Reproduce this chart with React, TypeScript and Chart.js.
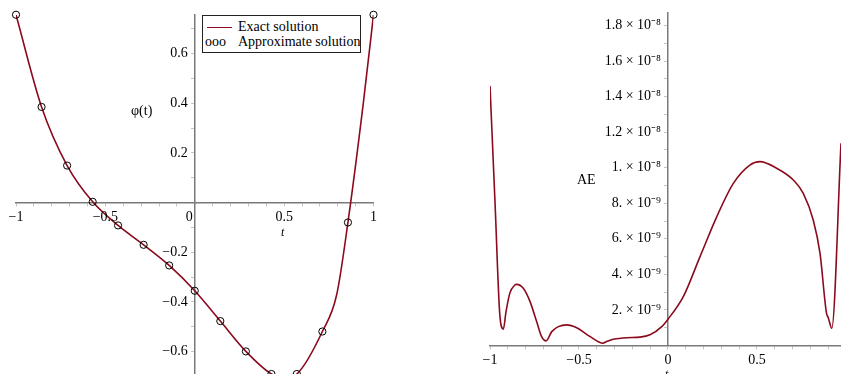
import React, { useEffect, useRef } from "react";
import { Chart, registerables } from "chart.js";

Chart.register(...registerables);

// ---------- Left chart data (phi(t)) ----------
const tNodes = [-1, -0.857, -0.714, -0.571, -0.429, -0.286, -0.143, 0, 0.143, 0.286, 0.429, 0.571, 0.714, 0.857, 1];
const phiApprox = [0.756, 0.385, 0.149, 0.003, -0.092, -0.17, -0.253, -0.355, -0.477, -0.599, -0.69, -0.69, -0.519, -0.08, 0.756];

const tExact = [-1, -0.857, -0.714, -0.571, -0.429, -0.286, -0.143, 0, 0.143, 0.286, 0.429, 0.5, 0.571, 0.714, 0.794, 0.857, 0.943, 1];
const phiExact = [0.756, 0.385, 0.149, 0.003, -0.092, -0.17, -0.253, -0.355, -0.477, -0.599, -0.69, -0.705, -0.69, -0.519, -0.371, -0.08, 0.4, 0.756];

const leftXTickValues = [-1, -0.9, -0.8, -0.7, -0.6, -0.5, -0.4, -0.3, -0.2, -0.1, 0, 0.1, 0.2, 0.3, 0.4, 0.5, 0.6, 0.7, 0.8, 0.9, 1];
const leftXLabelValues = [-1, -0.5, 0, 0.5, 1];
const leftXLabels = ["\u22121", "\u22120.5", "0", "0.5", "1"];

const leftYTickValues = [-0.6, -0.5, -0.4, -0.3, -0.2, -0.1, 0.1, 0.2, 0.3, 0.4, 0.5, 0.6, 0.7];
const leftYLabelValues = [-0.6, -0.4, -0.2, 0.2, 0.4, 0.6];
const leftYLabels = ["\u22120.6", "\u22120.4", "\u22120.2", "0.2", "0.4", "0.6"];

// ---------- Right chart data (AE) ----------
const tAE = [-1, -0.972, -0.944, -0.925, -0.91, -0.888, -0.86, -0.85, -0.813, -0.775, -0.738, -0.71, -0.685, -0.653, -0.616, -0.569, -0.513, -0.457, -0.4, -0.369, -0.338, -0.307, -0.232, -0.157, -0.101, -0.035, 0, 0.086, 0.18, 0.273, 0.367, 0.46, 0.517, 0.61, 0.704, 0.76, 0.816, 0.854, 0.89, 0.901, 0.92, 0.972];
const aeValues = [14.6e-9, 8.1e-9, 1.62e-9, 0.92e-9, 1.9e-9, 2.96e-9, 3.4e-9, 3.44e-9, 3.22e-9, 2.47e-9, 1.35e-9, 0.5e-9, 0.26e-9, 0.78e-9, 1.06e-9, 1.16e-9, 1.0e-9, 0.63e-9, 0.26e-9, 0.13e-9, 0.25e-9, 0.35e-9, 0.44e-9, 0.47e-9, 0.6e-9, 1.06e-9, 1.48e-9, 2.75e-9, 5.0e-9, 7.22e-9, 9.12e-9, 10.15e-9, 10.34e-9, 9.97e-9, 9.31e-9, 8.56e-9, 7.06e-9, 5.19e-9, 1.85e-9, 1.55e-9, 0.97e-9, 11.37e-9];

const rightXTickValues = [-1, -0.9, -0.8, -0.7, -0.6, -0.5, -0.4, -0.3, -0.2, -0.1, 0, 0.1, 0.2, 0.3, 0.4, 0.5, 0.6, 0.7, 0.8, 0.9];
const rightXLabelValues = [-1, -0.5, 0, 0.5];
const rightXLabels = ["\u22121", "\u22120.5", "0", "0.5"];

const rightYTickValues = [1e-9, 2e-9, 3e-9, 4e-9, 5e-9, 6e-9, 7e-9, 8e-9, 9e-9, 10e-9, 11e-9, 12e-9, 13e-9, 14e-9, 15e-9, 16e-9, 17e-9, 18e-9];
const rightYLabelValues = [2e-9, 4e-9, 6e-9, 8e-9, 10e-9, 12e-9, 14e-9, 16e-9, 18e-9];
const rightYLabels = [
  "2. \u00d7 10\u207b\u2079",
  "4. \u00d7 10\u207b\u2079",
  "6. \u00d7 10\u207b\u2079",
  "8. \u00d7 10\u207b\u2079",
  "1. \u00d7 10\u207b\u2078",
  "1.2 \u00d7 10\u207b\u2078",
  "1.4 \u00d7 10\u207b\u2078",
  "1.6 \u00d7 10\u207b\u2078",
  "1.8 \u00d7 10\u207b\u2078",
];

const RED = "#8b0a1c";
const AXIS = "#7a7a7a";
const TICK = "#c4c4c4";
const SERIF = "'Liberation Serif', 'Times New Roman', serif";

// Draws tick labels next to axes that cross at the origin, using the chart's scales.
const tickLabelPlugin = {
  id: "originTickLabels",
  afterDraw(chart: any, _args: any, opts: any) {
    const { ctx } = chart;
    const xs = chart.scales.x;
    const ys = chart.scales.y;
    const axisY = ys.getPixelForValue(0);
    const axisX = xs.getPixelForValue(0);
    ctx.save();
    ctx.font = `14px ${SERIF}`;
    ctx.fillStyle = "#000";
    ctx.textBaseline = "middle";
    ctx.textAlign = "center";
    opts.xValues.forEach((v: number, i: number) => {
      const shift = v === 0 ? opts.zeroShift || 0 : 0;
      ctx.fillText(opts.xLabels[i], xs.getPixelForValue(v) + shift, axisY + opts.xOffset);
    });
    ctx.textAlign = "right";
    opts.yValues.forEach((v: number, i: number) => {
      ctx.fillText(opts.yLabels[i], axisX - opts.yOffset, ys.getPixelForValue(v));
    });
    ctx.restore();
  },
};

function axisOpts(min: number, max: number, pos: any, tickValues: number[]) {
  return {
    type: "linear",
    min,
    max,
    bounds: "data",
    position: pos,
    afterBuildTicks: (scale: any) => {
      scale.ticks = tickValues.map((v) => ({ value: v }));
    },
    grid: {
      drawOnChartArea: false,
      drawTicks: true,
      tickLength: 3,
      tickColor: TICK,
      tickWidth: 1,
    },
    border: { display: true, color: AXIS, width: 1.5 },
    ticks: { display: false, autoSkip: false },
  };
}

export default function App() {
  const leftRef = useRef<HTMLCanvasElement>(null);
  const rightRef = useRef<HTMLCanvasElement>(null);

  useEffect(() => {
    const left = new Chart(leftRef.current as HTMLCanvasElement, {
      type: "scatter",
      data: {
        datasets: [
          {
            type: "line",
            label: "Exact solution",
            data: tExact.map((t, i) => ({ x: t, y: phiExact[i] })),
            borderColor: RED,
            borderWidth: 1.6,
            pointRadius: 0,
            cubicInterpolationMode: "monotone",
            fill: false,
            order: 2,
          },
          {
            type: "scatter",
            label: "Approximate solution",
            data: tNodes.map((t, i) => ({ x: t, y: phiApprox[i] })),
            pointRadius: 3.6,
            pointBorderColor: "#000",
            pointBackgroundColor: "rgba(0,0,0,0)",
            pointBorderWidth: 1,
            clip: false,
            order: 1,
          },
        ],
      } as any,
      options: {
        responsive: false,
        animation: false,
        events: [],
        layout: { autoPadding: false, padding: { left: 16, right: 46.5, top: 15, bottom: 0 } },
        plugins: {
          legend: { display: false },
          tooltip: { enabled: false },
          originTickLabels: {
            xValues: leftXLabelValues,
            xLabels: leftXLabels,
            yValues: leftYLabelValues,
            yLabels: leftYLabels,
            xOffset: 14.5,
            yOffset: 7,
            zeroShift: -5.5,
          },
        },
        scales: {
          x: axisOpts(-1, 1, { y: 0 }, leftXTickValues),
          y: axisOpts(-0.69, 0.755, { x: 0 }, leftYTickValues),
        },
      } as any,
      plugins: [tickLabelPlugin],
    });

    const right = new Chart(rightRef.current as HTMLCanvasElement, {
      type: "scatter",
      data: {
        datasets: [
          {
            type: "line",
            label: "AE",
            data: tAE.map((t, i) => ({ x: t, y: aeValues[i] })),
            borderColor: RED,
            borderWidth: 1.6,
            pointRadius: 0,
            cubicInterpolationMode: "monotone",
            fill: false,
          },
        ],
      } as any,
      options: {
        responsive: false,
        animation: false,
        events: [],
        layout: { autoPadding: false, padding: { left: 70, right: 0, top: 13, bottom: 28.5 } },
        plugins: {
          legend: { display: false },
          tooltip: { enabled: false },
          originTickLabels: {
            xValues: rightXLabelValues,
            xLabels: rightXLabels,
            yValues: rightYLabelValues,
            yLabels: rightYLabels,
            xOffset: 14.5,
            yOffset: 7,
            zeroShift: 0,
          },
        },
        scales: {
          x: axisOpts(-1, 0.972, { y: 0 }, rightXTickValues),
          y: axisOpts(0, 1.87e-8, { x: 0 }, rightYTickValues),
        },
      } as any,
      plugins: [tickLabelPlugin],
    });

    return () => {
      left.destroy();
      right.destroy();
    };
  }, []);

  const txt: React.CSSProperties = {
    position: "absolute",
    fontFamily: SERIF,
    fontSize: 14,
    lineHeight: "16px",
    color: "#000",
    whiteSpace: "nowrap",
  };

  return (
    <div
      style={{
        position: "fixed",
        left: 0,
        top: 0,
        width: 841,
        height: 374,
        background: "#fff",
        overflow: "hidden",
      }}
    >
      <canvas
        ref={leftRef}
        width={420}
        height={374}
        style={{ position: "absolute", left: 0, top: 0, width: 420, height: 374 }}
      />
      <canvas
        ref={rightRef}
        width={421}
        height={374}
        style={{ position: "absolute", left: 420, top: 0, width: 421, height: 374 }}
      />

      {/* Left axis titles */}
      <div style={{ ...txt, left: 131, top: 103 }}>φ(t)</div>
      <div style={{ ...txt, left: 281, top: 224, fontStyle: "italic", fontSize: 12 }}>t</div>

      {/* Legend */}
      <div
        style={{
          position: "absolute",
          left: 202,
          top: 15,
          width: 159,
          height: 38,
          boxSizing: "border-box",
          border: "1px solid #222",
          background: "#fff",
          overflow: "hidden",
        }}
      >
        <div
          style={{
            position: "absolute",
            left: 4,
            top: 10.5,
            width: 25,
            height: 0,
            borderTop: `1.5px solid ${RED}`,
          }}
        />
        <div style={{ ...txt, left: 35, top: 3.4 }}>Exact solution</div>
        <div style={{ ...txt, left: 2, top: 18.4 }}>ooo</div>
        <div style={{ ...txt, left: 35, top: 18.4 }}>Approximate solution</div>
      </div>

      {/* Right axis titles */}
      <div style={{ ...txt, left: 577, top: 172 }}>AE</div>
      <div style={{ ...txt, left: 665, top: 366, fontStyle: "italic", fontSize: 12 }}>t</div>
    </div>
  );
}
